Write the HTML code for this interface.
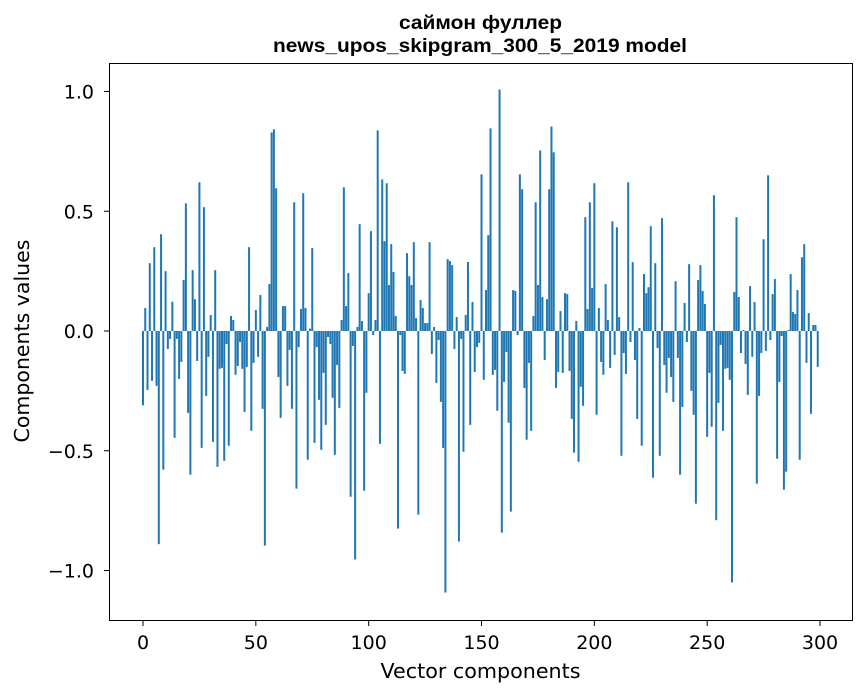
<!DOCTYPE html>
<html><head><meta charset="utf-8"><style>
html,body{margin:0;padding:0;background:#fff;}
svg{display:block;font-family:"DejaVu Sans","Liberation Sans",sans-serif;}
</style></head><body>
<svg id="chart" width="867" height="696" viewBox="0 0 867 696">
<rect width="867" height="696" fill="#fff"/>
<text x="480.5" y="29" text-anchor="middle" font-family="Liberation Sans, sans-serif" font-size="19" font-weight="bold" fill="#000" textLength="163" lengthAdjust="spacingAndGlyphs">саймон фуллер</text>
<text x="480" y="52" text-anchor="middle" font-family="Liberation Sans, sans-serif" font-size="19" font-weight="bold" fill="#000" textLength="414" lengthAdjust="spacingAndGlyphs">news_upos_skipgram_300_5_2019 model</text>
<g id="bars"></g>
<g id="axes"></g>
<rect x="109.5" y="63.5" width="743" height="557" fill="none" stroke="#000" stroke-width="1"/>
<text x="480.5" y="678" text-anchor="middle" font-size="20.5" fill="#000" textLength="200" lengthAdjust="spacingAndGlyphs">Vector components</text>
<text transform="translate(29,341) rotate(-90)" text-anchor="middle" font-size="20.5" fill="#000">Components values</text>
</svg>
<script>
const values = [
-0.31,0.096,-0.246,0.283,-0.208,0.35,-0.229,-0.89,0.404,-0.579,
0.25,-0.075,-0.033,0.122,-0.446,-0.033,-0.2,-0.129,0.213,0.533,
-0.342,-0.6,0.254,0.133,-0.125,0.621,-0.488,0.517,-0.271,-0.108,
0.067,-0.463,0.254,-0.567,-0.158,-0.154,-0.542,-0.054,-0.479,0.063,
0.046,-0.183,-0.146,-0.046,-0.158,-0.338,-0.15,0.35,-0.417,-0.133,
0.0875,-0.108,0.15,-0.325,-0.896,0.017,0.196,0.829,0.842,0.596,
-0.192,-0.3625,0.104,0.104,-0.229,-0.079,-0.325,0.5375,-0.658,-0.067,
0.092,0.575,0.096,-0.5375,0.01,0.346,-0.467,-0.067,-0.2875,-0.496,
-0.175,-0.392,-0.025,-0.054,-0.279,-0.517,-0.142,-0.321,0.046,0.6,
0.104,0.242,-0.692,-0.0625,-0.954,0.017,0.446,0.042,-0.667,-0.258,
0.158,0.417,-0.017,0.046,0.8375,-0.471,0.633,0.375,0.617,0.192,
0.363,0.246,0.0625,-0.825,-0.017,-0.167,-0.179,0.325,0.229,0.192,
0.371,0.054,-0.767,0.129,0.096,0.033,0.033,0.371,-0.096,0.017,
-0.217,-0.0375,-0.296,-0.488,-1.092,0.3,0.292,0.275,-0.075,0.058,
-0.879,-0.033,-0.504,0.067,0.288,-0.392,0.121,-0.171,-0.067,-0.05,
0.654,-0.204,0.171,0.4,0.846,-0.183,-0.1625,-0.333,1.008,-0.842,
-0.2125,-0.0875,-0.383,-0.754,0.171,0.167,-0.017,0.654,0.592,-0.2375,
-0.454,-0.133,-0.417,0.0625,0.5375,0.192,0.754,0.142,-0.121,0.133,
0.592,0.854,0.746,-0.2375,-0.171,0.083,-0.175,0.158,0.154,-0.167,
-0.367,-0.508,0.042,-0.546,-0.233,-0.3125,0.475,0.092,0.5375,0.179,
0.617,-0.35,0.096,-0.129,-0.183,0.196,0.046,-0.154,0.458,-0.1,
0.433,0.058,-0.521,-0.092,-0.179,0.621,-0.046,0.2875,-0.121,-0.367,
0.0125,-0.479,0.2375,0.158,0.183,0.4375,-0.6125,0.283,-0.071,-0.521,
0.471,-0.142,-0.258,-0.1125,-0.192,-0.296,0.208,-0.1125,-0.6,-0.317,
0.117,-0.046,0.279,-0.25,-0.35,-0.721,0.2125,0.275,0.167,0.1125,
-0.442,-0.175,-0.4,0.567,-0.79,-0.3,-0.058,-0.417,-0.158,-0.154,
-0.204,-1.05,0.1625,0.475,0.142,-0.092,0.004,-0.1375,-0.267,0.1875,
-0.108,0.121,-0.6375,-0.271,-0.092,0.383,-0.083,0.65,-0.0375,0.154,
0.217,-0.533,-0.2125,-0.021,-0.6625,-0.5875,0.004,0.2375,0.079,0.071,
0.171,-0.5375,0.308,0.3625,-0.133,0.075,-0.346,0.025,0.025,-0.15
];
const xTicks = [0,50,100,150,200,250,300];
const yTicks = [-1.0,-0.5,0.0,0.5,1.0];
const yTickLabels = ["\u22121.0","\u22120.5","0.0","0.5","1.0"];

const NS = "http://www.w3.org/2000/svg";
function xScale(v){ return 143 + v*2.2567; }
function yScale(v){ return 331 - v*239.5; }
const barsG = document.getElementById('bars');
values.forEach(function(v,i){
  const r = document.createElementNS(NS,'rect');
  const y0 = yScale(0), y1 = yScale(v);
  r.setAttribute('x', xScale(i) - 1.0);
  r.setAttribute('width', 2.0);
  r.setAttribute('y', Math.min(y0,y1));
  r.setAttribute('height', Math.max(Math.abs(y1-y0),0.3));
  r.setAttribute('fill', '#1f77b4');
  
  
  barsG.appendChild(r);
});
const axesG = document.getElementById('axes');
xTicks.forEach(function(t){
  const x = xScale(t);
  const l = document.createElementNS(NS,'line');
  l.setAttribute('x1',x);l.setAttribute('x2',x);l.setAttribute('y1',620.5);l.setAttribute('y2',626);
  l.setAttribute('stroke','#000');
  
  
  axesG.appendChild(l);
  const tx = document.createElementNS(NS,'text');
  tx.setAttribute('x',x);tx.setAttribute('y',649);tx.setAttribute('text-anchor','middle');
  tx.setAttribute('font-size','19');
  tx.textContent = String(t);
  
  
  axesG.appendChild(tx);
});
yTicks.forEach(function(t,k){
  const y = yScale(t);
  const l = document.createElementNS(NS,'line');
  l.setAttribute('x1',104);l.setAttribute('x2',109.5);l.setAttribute('y1',y);l.setAttribute('y2',y);
  l.setAttribute('stroke','#000');
  
  
  axesG.appendChild(l);
  const tx = document.createElementNS(NS,'text');
  tx.setAttribute('x',94);tx.setAttribute('y',y+7);tx.setAttribute('text-anchor','end');
  tx.setAttribute('font-size','19');
  tx.textContent = yTickLabels[k];
  
  
  axesG.appendChild(tx);
});
</script>
</body></html>
